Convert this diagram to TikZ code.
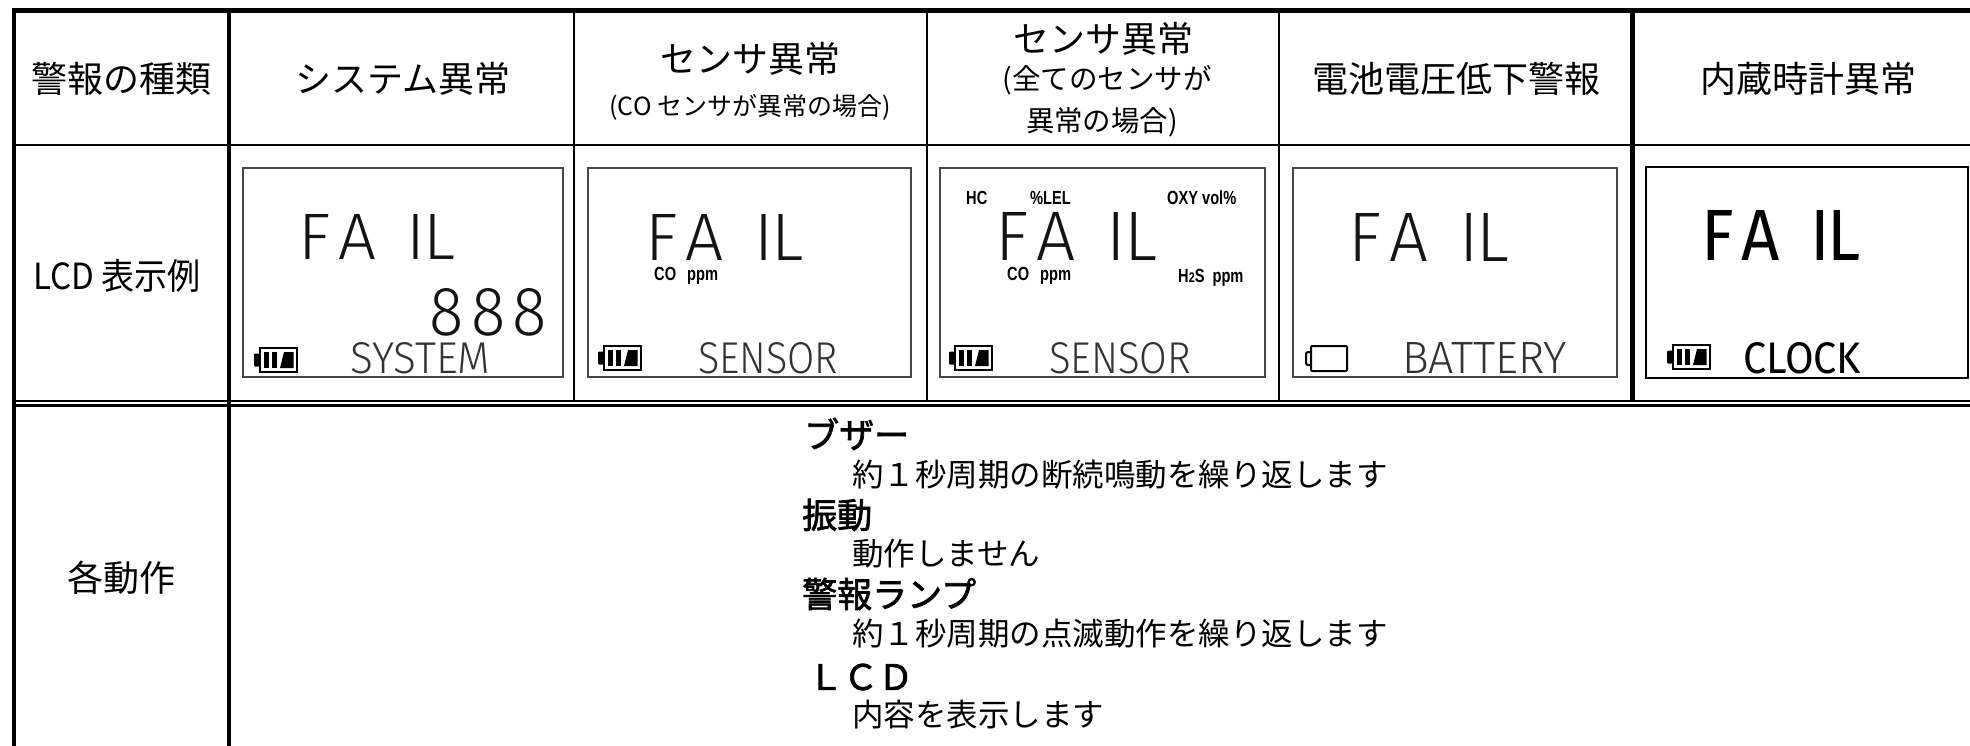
\documentclass[tikz,border=0pt]{standalone}
\usepackage{fontspec}
\usepackage{graphicx}
\newfontfamily\cjk{Noto Sans CJK JP}
\newfontfamily\cjkb{Noto Sans CJK JP}[FakeBold=2]
\IfFontExistsTF{Fira Sans Light}{\newfontfamily\lcdl{Fira Sans Light}}{%
  \IfFontExistsTF{Lato Light}{\newfontfamily\lcdl{Lato Light}}{\newfontfamily\lcdl{Fira Sans}}}
\newfontfamily\lcdr{Fira Sans}
\newfontfamily\narrowb{Liberation Sans}[FakeStretch=0.77]
\newcommand\failtxt{F\hspace{0.12em}A\hspace{0.45em}I\hspace{-0.03em}L}
\tikzset{
  rulethick/.style={line width=4.2pt},
  rulethin/.style={line width=2.5pt},
  lcdbox/.style={draw=black!72, line width=1.7pt},
  hdr/.style={inner sep=0pt, font=\cjk\fontsize{36}{40}\selectfont},
  hdrsmall/.style={inner sep=0pt},
  bodytext/.style={inner sep=0pt, anchor=west, font=\cjk\fontsize{31.5}{34}\selectfont},
  bodyhead/.style={inner sep=0pt, anchor=west, font=\cjkb\fontsize{35}{38}\selectfont},
  lcdt/.style={inner sep=0pt, anchor=north west, text=black!92},
  lcdw/.style={lcdt, text=black!80},
  lab/.style={inner sep=0pt, anchor=base west, font=\narrowb\bfseries\fontsize{19}{20}\selectfont},
  battfull/.pic={
    \draw[line width=2.4pt] (7,3) rectangle (44,27);
    \fill[rounded corners=1pt] (1,8.5) rectangle (7,21.5);
    \fill (11,7) rectangle (16,23);
    \fill (19,7) rectangle (24,23);
    \fill (27,23) -- (31,7) -- (40.5,7) -- (40.5,23) -- cycle;
  },
  battempty/.pic={
    \draw[line width=2pt, rounded corners=1pt] (8,3) rectangle (44,28);
    \draw[line width=2pt, rounded corners=2pt] (8,9) -- (3,9) -- (3,22) -- (8,22);
  }
}
\begin{document}
\begin{tikzpicture}[x=1pt,y=-1pt]
\useasboundingbox (0,0) rectangle (1970,746);
\fill[white] (0,0) rectangle (1970,746);

% ---- table rules ----
\draw[rulethick] (11.7,10.5) -- (1970,10.5);
\draw[line width=4.5pt] (13.8,8.4) -- (13.8,746);
\draw[rulethick] (229,10.5) -- (229,746);
\draw[rulethin] (574,10.5) -- (574,401);
\draw[rulethin] (927,10.5) -- (927,401);
\draw[rulethin] (1279,10.5) -- (1279,401);
\draw[line width=5pt] (1632.5,10.5) -- (1632.5,401);
\draw[rulethin] (13.8,145) -- (1970,145);
\draw[line width=2.3pt] (13.8,401.2) -- (1970,401.2);
\draw[line width=2.3pt] (13.8,405.5) -- (1970,405.5);

% ---- header row ----
\node[hdr] (h1) at (121,79) {警報の種類};
\node[hdr] (h2) at (403,79) {システム異常};
\node[hdr] (h3) at (750,59) {センサ異常};
\node[hdrsmall] (h3b) at (750,107) {\resizebox{281pt}{!}{\cjk\fontsize{24}{26}\selectfont (CO センサが異常の場合)}};
\node[hdr] (h4) at (1103,38.5) {センサ異常};
\node[hdrsmall] (h4b) at (1107,80.5) {\resizebox{209pt}{!}{\cjk\fontsize{27}{29}\selectfont (全てのセンサが}};
\node[hdrsmall] (h4c) at (1102,122.5) {\resizebox{152pt}{!}{\cjk\fontsize{27}{29}\selectfont 異常の場合)}};
\node[hdr] (h5) at (1456,79) {電池電圧低下警報};
\node[hdr] (h6) at (1808,79) {内蔵時計異常};

% ---- LCD row ----
\node[hdrsmall] (r2) at (117,276) {\scalebox{0.92}[1]{\cjk\fontsize{36}{40}\selectfont LCD 表示例}};

\draw[lcdbox] (243,168) rectangle (563,377);
\draw[lcdbox] (588,168) rectangle (911,377);
\draw[lcdbox] (940,168) rectangle (1265,377);
\draw[lcdbox] (1293,168) rectangle (1617,377);
\draw[line width=2pt] (1646,167) rectangle (1968,378);

% LCD 1
\node[lcdt] (f1) at (298,214) {\resizebox{157pt}{45pt}{\lcdl\failtxt}};
\node[lcdt] (n1) at (429,288) {\resizebox{118pt}{47pt}{\lcdl 8\hspace{0.12em}8\hspace{0.12em}8}};
\node[lcdw] (s1) at (350,342) {\resizebox{140pt}{31pt}{\lcdl SYSTEM}};
\pic at (253,345) {battfull};

% LCD 2
\node[lcdt] (f2) at (645,214) {\resizebox{158pt}{46pt}{\lcdl\failtxt}};
\node[lab] (c2) at (654,280) {CO \hspace{7pt}ppm};
\node[lcdw] (s2) at (698,342) {\resizebox{140pt}{31pt}{\lcdl SENSOR}};
\pic at (597,343) {battfull};

% LCD 3
\node[lab] (hc) at (966,205) {HC};
\node[lab] (lel) at (1030,205) {\%LEL};
\node[lab] (oxy) at (1167,205) {OXY vol\%};
\node[lcdt] (f3) at (995,212) {\resizebox{162pt}{48pt}{\lcdl\failtxt}};
\node[lab] (c3) at (1007,280) {CO \hspace{7pt}ppm};
\node[lab] (h2s) at (1178,282) {H{\fontsize{14}{14}\selectfont 2}S \hspace{4pt}ppm};
\node[lcdw] (s3) at (1049,342) {\resizebox{142pt}{31pt}{\lcdl SENSOR}};
\pic at (948,343) {battfull};

% LCD 4
\node[lcdt] (f4) at (1348,213) {\resizebox{161pt}{48pt}{\lcdl\failtxt}};
\node[lcdw] (s4) at (1402,342) {\resizebox{165pt}{31pt}{\lcdl BATTERY}};
\pic at (1303,343) {battempty};

% LCD 5
\node[lcdt, text=black] (f5) at (1701,210) {\resizebox{160pt}{50pt}{\lcdr\failtxt}};
\node[lcdt, text=black] (s5) at (1743,342) {\resizebox{118pt}{31pt}{\lcdr CLOCK}};
\pic at (1666,342) {battfull};

% ---- action row ----
\node[hdr] (r3) at (121,578) {各動作};

\node[bodyhead] (b1) at (804,434) {ブザー};
\node[bodytext] (t1) at (852,475) {約１秒周期の断続鳴動を繰り返します};
\node[bodyhead] (b2) at (802,515) {振動};
\node[bodytext] (t2) at (852,554) {動作しません};
\node[bodyhead] (b3) at (802,594) {警報ランプ};
\node[bodytext] (t3) at (852,634) {約１秒周期の点滅動作を繰り返します};
\node[bodyhead] (b4) at (808,677) {ＬＣＤ};
\node[bodytext] (t4) at (852,715) {内容を表示します};
\end{tikzpicture}
\end{document}
